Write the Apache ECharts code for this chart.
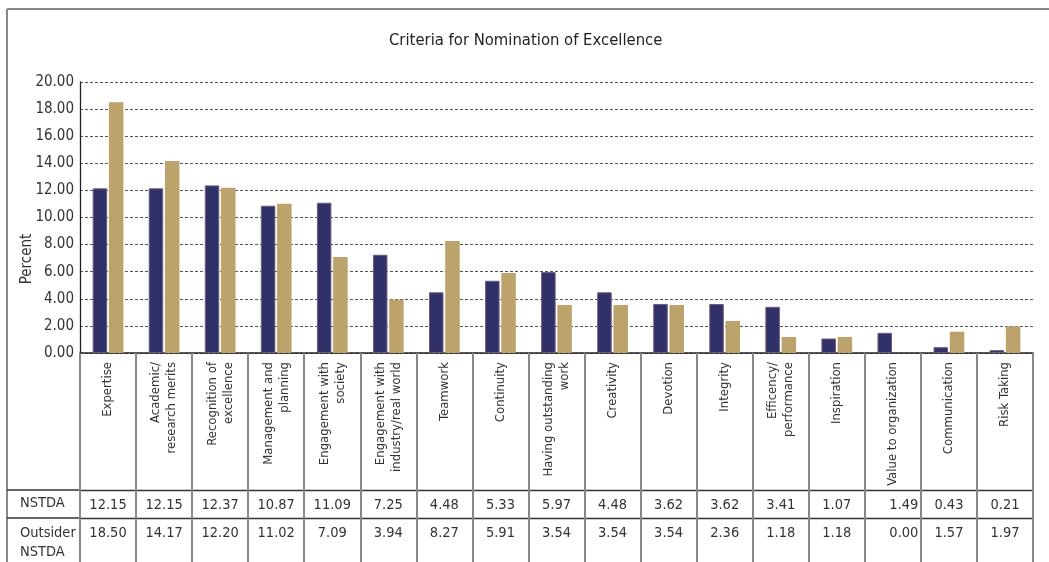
<!DOCTYPE html>
<html>
<head>
<meta charset="utf-8">
<script src="https://cdn.jsdelivr.net/npm/echarts@6/dist/echarts.min.js"></script>
<style>
  html, body { margin: 0; padding: 0; background: #fff; }
  #chart { width: 1049px; height: 562px; }
</style>
</head>
<body>
<div id="chart"></div>
<script>
// Nomination criteria and the share (%) of nominations mentioning each
const categories = [
  'Expertise', 'Academic/\nresearch merits', 'Recognition of\nexcellence',
  'Management and\nplanning', 'Engagement with\nsociety',
  'Engagement with\nindustry/real world', 'Teamwork', 'Continuity',
  'Having outstanding\nwork', 'Creativity', 'Devotion', 'Integrity',
  'Efficency/\nperformance', 'Inspiration', 'Value to organization',
  'Communication', 'Risk Taking'
];
const nstda =    [12.15, 12.15, 12.37, 10.87, 11.09, 7.25, 4.48, 5.33, 5.97, 4.48, 3.62, 3.62, 3.41, 1.07, 1.49, 0.43, 0.21];
const outsider = [18.50, 14.17, 12.20, 11.02, 7.09, 3.94, 8.27, 5.91, 3.54, 3.54, 3.54, 2.36, 1.18, 1.18, 0.00, 1.57, 1.97];
const seriesNames = ['NSTDA', 'Outsider\nNSTDA'];
const yTicks = { min: 0, max: 20, step: 2 };
// table cells whose figures sit flush right
const rightAligned = ['Value to organization'];

const FONT = "'Liberation Sans Narrow', 'DejaVu Sans Condensed', 'Roboto', sans-serif";
const chart = echarts.init(document.getElementById('chart'), null, { renderer: 'canvas' });

// Plot area geometry
const gridLeft = 80, gridRight = 16, gridTop = 82, gridBottom = 209;
const rowLine1 = 137, rowLine2 = 165;   // offsets of the table row rules below the axis

function tableAxis(values, offset) {
  return {
    type: 'category',
    data: categories,
    position: 'bottom',
    offset: offset,
    axisLine: { show: true, lineStyle: { color: '#333', width: 1.3 } },
    axisTick: { show: false },
    axisLabel: {
      interval: 0,
      margin: 8,
      fontFamily: FONT,
      fontSize: 14.5,
      color: '#333',
      formatter: (v, i) => {
        const s = values[i].toFixed(2);
        return rightAligned.includes(v) ? '{r|' + s + '}' : s;
      },
      rich: {
        r: { fontFamily: FONT, fontSize: 14.5, color: '#333', padding: [0, 0, 0, 22] }
      }
    }
  };
}

chart.setOption({
  animation: false,
  title: {
    text: 'Criteria for Nomination of Excellence',
    left: 384,
    top: 27,
    textStyle: { fontFamily: FONT, fontSize: 16.5, fontWeight: 'normal', color: '#222' }
  },
  grid: { left: gridLeft, right: gridRight, top: gridTop, bottom: gridBottom, containLabel: false },
  xAxis: [
    {
      type: 'category',
      data: categories,
      position: 'bottom',
      axisLine: { show: true, lineStyle: { color: '#222', width: 1.5 } },
      axisTick: { show: true, interval: 0, length: 215, lineStyle: { color: '#888', width: 2 } },
      axisLabel: {
        interval: 0,
        rotate: 90,
        margin: 9,
        fontFamily: FONT,
        fontSize: 13,
        lineHeight: 16,
        color: '#333'
      }
    },
    tableAxis(nstda, rowLine1),
    tableAxis(outsider, rowLine2)
  ],
  yAxis: {
    type: 'value',
    min: yTicks.min,
    max: yTicks.max,
    interval: yTicks.step,
    axisLine: { show: true, lineStyle: { color: '#222', width: 1.3 } },
    axisTick: { show: false },
    axisLabel: {
      margin: 6,
      fontFamily: FONT,
      fontSize: 15,
      color: '#333',
      formatter: v => v.toFixed(2)
    },
    splitLine: { show: true, lineStyle: { color: '#555', width: 1.2, type: [3, 2] } }
  },
  series: [
    {
      name: seriesNames[0],
      type: 'bar',
      xAxisIndex: 0,
      data: nstda,
      barWidth: 14.5,
      barGap: '12%',
      itemStyle: { color: '#31316a', borderColor: '#6e5d7a', borderWidth: 1 }
    },
    {
      name: seriesNames[1],
      type: 'bar',
      xAxisIndex: 0,
      data: outsider,
      barWidth: 14.5,
      itemStyle: { color: '#bca36b' }
    }
  ],
  graphic: [
    // outer frame (top and left edges)
    { type: 'line', shape: { x1: 7, y1: 9, x2: 1049, y2: 9 }, style: { stroke: '#888', lineWidth: 2 } },
    { type: 'line', shape: { x1: 7, y1: 9, x2: 7, y2: 562 }, style: { stroke: '#888', lineWidth: 2 } },
    // row rules across the header column
    { type: 'line', shape: { x1: 7, y1: 353 + rowLine1, x2: gridLeft, y2: 353 + rowLine1 }, style: { stroke: '#333', lineWidth: 1.3 } },
    { type: 'line', shape: { x1: 7, y1: 353 + rowLine2, x2: gridLeft, y2: 353 + rowLine2 }, style: { stroke: '#333', lineWidth: 1.3 } },
    // row headers
    { type: 'text', left: 20, top: 496, style: { text: seriesNames[0], font: '14.5px ' + FONT, fill: '#333' } },
    { type: 'text', left: 20, top: 524, style: { text: seriesNames[1], font: '14.5px ' + FONT, fill: '#333', lineHeight: 19 } },
    // value axis title
    { type: 'text', x: 27, y: 259, rotation: Math.PI / 2,
      style: { text: 'Percent', font: '15px ' + FONT, fill: '#333', align: 'center', verticalAlign: 'middle' } }
  ]
});
</script>
</body>
</html>
